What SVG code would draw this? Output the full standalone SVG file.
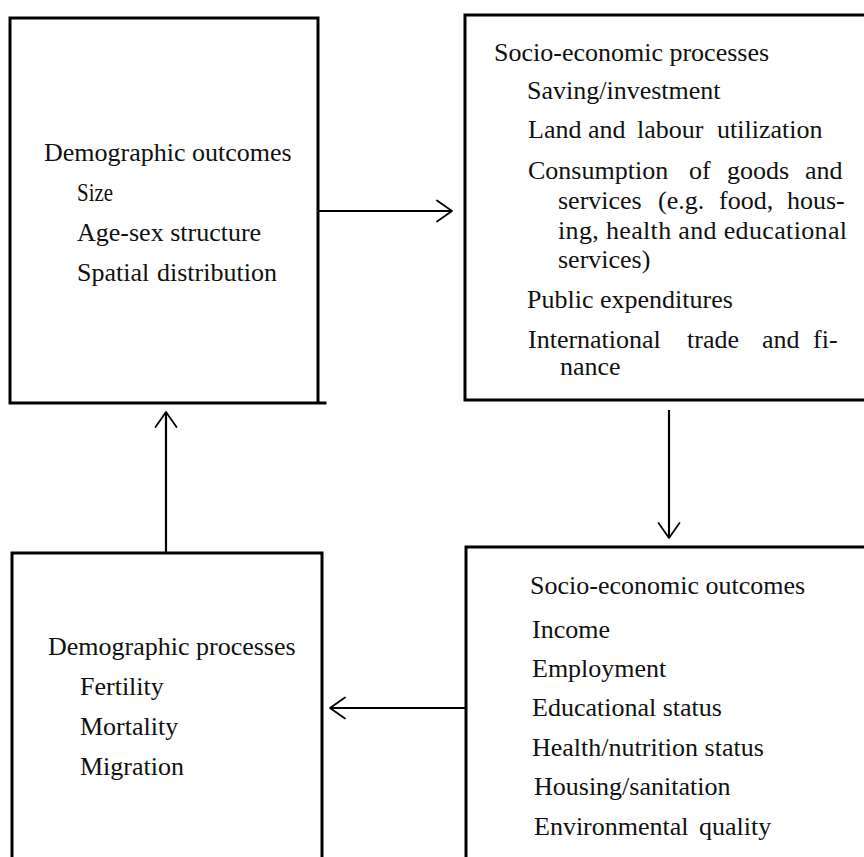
<svg xmlns="http://www.w3.org/2000/svg" width="864" height="857" viewBox="0 0 864 857">
<style>
.box{fill:none;stroke:#000;stroke-width:3;stroke-linecap:square}
.t{font-family:'Liberation Serif','Times New Roman',Tinos,'DejaVu Serif',serif;font-size:26px;fill:#111}
.conn{fill:none;stroke:#000;stroke-width:2.2}
</style>
<defs>
<marker id="ah" markerUnits="userSpaceOnUse" viewBox="-18 -13 20 26" markerWidth="20" markerHeight="26" refX="0" refY="0" orient="auto">
<path d="M-15,-10.5 L0,0 L-15,10.5" fill="none" stroke="#000" stroke-width="1.8" stroke-linecap="round" stroke-linejoin="round"/>
</marker>
</defs>
<rect width="864" height="857" fill="#fff"/>
<g id="demographic-outcomes">
<path class="box" d="M10,18 L318,18 L318,403 M10,18 L10,403 L325,403"/>
<text class="t" x="44" y="161">Demographic outcomes</text>
<text class="t" x="77" y="201" textLength="36" lengthAdjust="spacingAndGlyphs">Size</text>
<text class="t" x="77" y="241">Age-sex structure</text>
<text class="t" x="77" y="281"><tspan x="77">Spatial</tspan><tspan x="157">distribution</tspan></text>
</g>
<g id="socio-economic-processes">
<path class="box" d="M866,15 L465,15 M465,18 L465,400 L866,400"/>
<text class="t" x="494" y="61">Socio-economic processes</text>
<text class="t" x="527" y="99">Saving/investment</text>
<text class="t" y="138"><tspan x="528">Land</tspan><tspan x="588">and</tspan><tspan x="637">labour</tspan><tspan x="717">utilization</tspan></text>
<text class="t" y="179"><tspan x="528">Consumption</tspan><tspan x="689">of</tspan><tspan x="727">goods</tspan><tspan x="805">and</tspan></text>
<text class="t" y="209"><tspan x="558">services</tspan><tspan x="658">(e.g.</tspan><tspan x="719">food,</tspan><tspan x="787">hous-</tspan></text>
<text class="t" x="558" y="239" textLength="289" lengthAdjust="spacing">ing, health and educational</text>
<text class="t" x="558" y="268">services)</text>
<text class="t" x="527" y="308">Public expenditures</text>
<text class="t" y="348"><tspan x="528">International</tspan><tspan x="687">trade</tspan><tspan x="762">and</tspan><tspan x="813">fi-</tspan></text>
<text class="t" x="560" y="375">nance</text>
</g>
<g id="socio-economic-outcomes">
<path class="box" d="M866,547 L466,547 L466,860"/>
<text class="t" x="530" y="594">Socio-economic outcomes</text>
<text class="t" x="532" y="638">Income</text>
<text class="t" x="532" y="677">Employment</text>
<text class="t" x="532" y="716">Educational status</text>
<text class="t" x="532" y="756">Health/nutrition status</text>
<text class="t" x="534" y="795">Housing/sanitation</text>
<text class="t" y="835"><tspan x="534">Environmental</tspan><tspan x="699">quality</tspan></text>
</g>
<g id="demographic-processes">
<path class="box" d="M12,860 L12,553 L322,553 L322,860"/>
<text class="t" x="48" y="655">Demographic processes</text>
<text class="t" x="80" y="695">Fertility</text>
<text class="t" x="80" y="735">Mortality</text>
<text class="t" x="80" y="775">Migration</text>
</g>
<g id="connectors">
<line class="conn" x1="318" y1="211" x2="452" y2="211" marker-end="url(#ah)"/>
<line class="conn" x1="669" y1="410" x2="669" y2="538" marker-end="url(#ah)"/>
<line class="conn" x1="466" y1="708" x2="330" y2="708" marker-end="url(#ah)"/>
<line class="conn" x1="166" y1="553" x2="166" y2="412" stroke-width="3" marker-end="url(#ah)"/>
</g>
</svg>
